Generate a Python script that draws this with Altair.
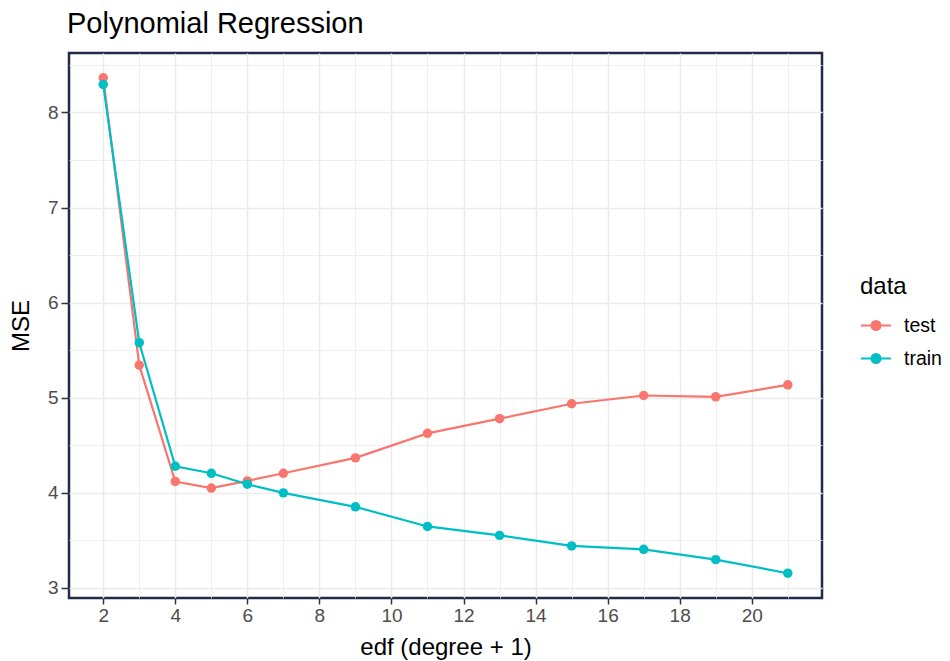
import altair as alt
import pandas as pd

edf = [2, 3, 4, 5, 6, 7, 9, 11, 13, 15, 17, 19, 21]
test_mse = [8.365, 5.343, 4.12, 4.05, 4.126, 4.206, 4.368, 4.626, 4.78, 4.937, 5.024, 5.01, 5.136]
train_mse = [8.295, 5.579, 4.28, 4.206, 4.091, 4.00, 3.853, 3.647, 3.553, 3.442, 3.406, 3.298, 3.155]
series = ["test", "train"]
colors = ["#F8766D", "#00BFC4"]
x_ticks = list(range(1, 23))
y_ticks = [2.5, 3, 3.5, 4, 4.5, 5, 5.5, 6, 6.5, 7, 7.5, 8, 8.5]

rows = []
for name, vals in zip(series, [test_mse, train_mse]):
    for e, v in zip(edf, vals):
        rows.append({"edf": e, "mse": v, "data": name})
df = pd.DataFrame(rows)

all_vals = test_mse + train_mse
xr = max(edf) - min(edf)
yr = max(all_vals) - min(all_vals)
x_dom = [min(edf) - 0.05 * xr, max(edf) + 0.05 * xr]
y_dom = [min(all_vals) - 0.05 * yr, max(all_vals) + 0.05 * yr]

W, H = 753, 545
FONT = "Liberation Sans"

x_enc = alt.X(
    "edf:Q",
    scale=alt.Scale(domain=x_dom, nice=False, zero=False),
    axis=alt.Axis(
        title="edf (degree + 1)",
        values=x_ticks,
        labelExpr="datum.value % 2 == 0 ? format(datum.value, 'd') : ''",
        gridWidth={"condition": {"test": "datum.value % 2 == 0", "value": 1.5}, "value": 0.8},
        tickColor={"condition": {"test": "datum.value % 2 == 0", "value": "#333333"}, "value": "transparent"},
        tickSize=6,
        tickWidth=1.5,
        labelPadding=2,
        titlePadding=10,
    ),
)
y_enc = alt.Y(
    "mse:Q",
    scale=alt.Scale(domain=y_dom, nice=False, zero=False),
    axis=alt.Axis(
        title="MSE",
        values=y_ticks,
        labelExpr="datum.value % 1 == 0 ? format(datum.value, 'd') : ''",
        gridWidth={"condition": {"test": "datum.value % 1 == 0", "value": 1.5}, "value": 0.8},
        tickColor={"condition": {"test": "datum.value % 1 == 0", "value": "#333333"}, "value": "transparent"},
        tickSize=8,
        tickWidth=1.5,
        labelPadding=3,
        titlePadding=14,
    ),
)

legend = alt.Legend(
    title="data",
    orient="none",
    legendX=W + 38,
    legendY=H / 2 - 51,
    symbolType="M-1,0L1,0M-0.3,0A0.3,0.3,0,1,0,0.3,0A0.3,0.3,0,1,0,-0.3,0Z",
    symbolSize=900,
    symbolStrokeWidth=2,
    rowPadding=7,
    titlePadding=11,
    labelOffset=12,
)
color_enc = alt.Color(
    "data:N",
    scale=alt.Scale(domain=series, range=colors),
    legend=legend,
)

lines = alt.Chart(df).mark_line(strokeWidth=2.2).encode(x=x_enc, y=y_enc, color=color_enc, detail="data:N")
points = alt.Chart(df).mark_point(filled=True, size=90, opacity=1).encode(x=x_enc, y=y_enc, color=color_enc)

chart = (
    alt.layer(lines, points)
    .properties(
        width=W,
        height=H,
        title=alt.TitleParams("Polynomial Regression", anchor="start", frame="group", fontSize=29, font=FONT,
                              fontWeight="normal", color="#000000", offset=14, dx=-2),
        autosize=alt.AutoSizeParams(type="none"),
        padding={"left": 61, "top": 45, "right": 120, "bottom": 63},
    )
    .configure_view(stroke="#222a4a", strokeWidth=2.5)
    .configure_axis(
        domain=False,
        gridColor="#ebebeb",
        labelFont=FONT,
        labelFontSize=19,
        labelColor="#4d4d4d",
        titleFont=FONT,
        titleFontSize=24,
        titleFontWeight="normal",
        titleColor="#000000",
    )
    .configure_legend(
        titleFont=FONT,
        titleFontSize=24,
        titleFontWeight="normal",
        titleColor="#000000",
        labelFont=FONT,
        labelFontSize=19.5,
        labelColor="#000000",
    )
)

chart.save("out.html", embed_options={"renderer": "svg", "actions": False})
